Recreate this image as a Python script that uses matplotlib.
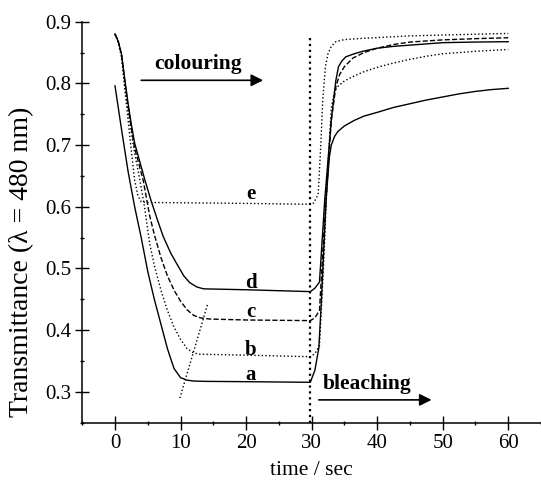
import matplotlib
matplotlib.use('Agg')
from matplotlib import pyplot as plt
from matplotlib.ticker import MultipleLocator

# time (s) and transmittance at 480 nm
t_a = [0, 1, 2, 3, 4, 5, 6, 7, 8, 9, 10, 11, 12, 14, 20, 29.8,
       30.5, 31.1, 31.5, 32.2, 32.7, 33.0, 33.5, 34, 35, 36.5, 38, 40,
       42.5, 45, 47.5, 50, 52.5, 55, 57.5, 60]
a = [0.796, 0.725, 0.657, 0.600, 0.550, 0.495, 0.450, 0.410, 0.370, 0.338, 0.323, 0.319, 0.3175, 0.317, 0.3165, 0.3155,
     0.335, 0.371, 0.449, 0.610, 0.680, 0.700, 0.714, 0.722, 0.731, 0.740, 0.747, 0.753,
     0.761, 0.767, 0.773, 0.778, 0.783, 0.787, 0.790, 0.792]

t_b = [0, 0.5, 1, 1.5, 2, 2.5, 3, 3.8, 4.5, 5.3, 6, 7, 8, 9, 10, 11, 12, 13, 20, 29.8,
       30.5, 31.2, 31.8, 32.4, 33.0, 33.5, 34, 35, 36.5, 38, 40, 42.5, 45, 47.5, 50, 55, 60]
b = [0.88, 0.868, 0.845, 0.80, 0.757, 0.72, 0.687, 0.643, 0.60, 0.54, 0.505, 0.465, 0.432, 0.405, 0.385, 0.37, 0.363, 0.361, 0.3595, 0.357,
     0.362, 0.375, 0.50, 0.65, 0.76, 0.787, 0.795, 0.804, 0.812, 0.819, 0.826, 0.833, 0.839, 0.844, 0.848, 0.852, 0.855]

t_c = [0, 0.5, 1, 1.5, 2, 2.5, 3, 4.3, 5.3, 6, 7, 8, 9, 10, 11, 12, 13, 14.5, 20, 29.8,
       30.5, 31.2, 32, 33, 33.7, 34.3, 35, 36.3, 38, 40, 42.5, 45, 50, 55, 60]
c = [0.88, 0.868, 0.846, 0.803, 0.762, 0.727, 0.695, 0.643, 0.585, 0.555, 0.518, 0.488, 0.465, 0.447, 0.433, 0.424, 0.42, 0.418, 0.4165, 0.4155,
     0.42, 0.432, 0.58, 0.74, 0.795, 0.815, 0.827, 0.841, 0.850, 0.857, 0.863, 0.867, 0.8705, 0.8725, 0.874]

t_d = [0, 0.5, 1, 1.5, 2, 2.5, 3, 4.57, 5.5, 6.5, 7.35, 8.5, 9.4, 10.5, 11.4, 12.5, 13.5, 20, 29.8,
       30.5, 31.2, 32, 33, 33.7, 34.1, 34.6, 35.2, 36.5, 37.8, 40, 42.5, 45, 50, 55, 60]
d = [0.88, 0.868, 0.847, 0.806, 0.767, 0.733, 0.703, 0.643, 0.61, 0.578, 0.552, 0.525, 0.508, 0.488, 0.477, 0.47, 0.467, 0.4655, 0.4625,
     0.468, 0.478, 0.611, 0.74, 0.805, 0.827, 0.836, 0.843, 0.848, 0.852, 0.857, 0.860, 0.862, 0.866, 0.867, 0.8676]

t_e = [0, 0.5, 1, 1.5, 2, 2.5, 3, 3.5, 4, 5, 10, 20, 29.8,
       30.3, 31, 31.4, 31.7, 32.1, 32.5, 33, 33.7, 35, 37.8, 45, 60]
e = [0.88, 0.866, 0.842, 0.79, 0.74, 0.69, 0.643, 0.618, 0.608, 0.607, 0.6065, 0.6055, 0.604,
     0.606, 0.62, 0.70, 0.773, 0.827, 0.848, 0.86, 0.8676, 0.871, 0.873, 0.877, 0.881]

# dotted guide through the minima
t_guide = [9.9, 14.1]
guide = [0.29, 0.441]

t_switch = 29.8
switch_top = 0.877

labels = ['a', 'b', 'c', 'd', 'e']
label_t = [20.7, 20.7, 20.7, 20.7, 20.7]
label_y = [0.327, 0.368, 0.429, 0.476, 0.621]

plt.rcParams['font.family'] = ['Liberation Serif', 'DejaVu Serif']

fig = plt.figure(figsize=(5.41, 4.82), dpi=100)
ax = fig.add_axes([0.152, 0.123, 0.848, 0.832])

ax.plot(t_a, a, '-', color='black', lw=1.0)
ax.plot(t_b, b, ':', color='black', lw=1.0)
ax.plot(t_c, c, '--', color='black', lw=1.0)
ax.plot(t_d, d, '-', color='black', lw=1.0)
ax.plot(t_e, e, ':', color='black', lw=1.0)
ax.plot(t_guide, guide, ':', color='black', lw=1.0)
ax.plot([t_switch, t_switch], [0.25, switch_top], ':', color='black', lw=1.6)

for lab, tx, ty in zip(labels, label_t, label_y):
    ax.text(tx, ty, lab, fontsize=15, fontweight='bold', ha='center', va='center')

ax.text(12.6, 0.832, 'colouring', fontsize=15.5, fontweight='bold', ha='center', va='center')
ax.annotate('', xy=(22.6, 0.805), xytext=(4.0, 0.805),
            arrowprops=dict(arrowstyle='-|>', color='black', lw=1.2,
                            mutation_scale=18, shrinkA=0, shrinkB=0))
ax.text(38.5, 0.312, 'bleaching', fontsize=15.5, fontweight='bold', ha='center', va='center')
ax.annotate('', xy=(48.3, 0.287), xytext=(31.1, 0.287),
            arrowprops=dict(arrowstyle='-|>', color='black', lw=1.2,
                            mutation_scale=18, shrinkA=0, shrinkB=0))

ax.set_xlim(-5, 65)
ax.set_ylim(0.25, 0.9)
ax.xaxis.set_minor_locator(MultipleLocator(5))
ax.yaxis.set_minor_locator(MultipleLocator(0.05))
ax.set_xticks([0, 10, 20, 30, 40, 50, 60])
ax.set_yticks([0.3, 0.4, 0.5, 0.6, 0.7, 0.8, 0.9])
ax.set_yticklabels(['0.3', '0.4', '0.5', '0.6', '0.7', '0.8', '0.9'])

for side in ['top', 'right']:
    ax.spines[side].set_visible(False)
for side in ['left', 'bottom']:
    ax.spines[side].set_linewidth(1.1)

ax.tick_params(which='major', direction='inout', length=10, width=1.0, labelsize=15, pad=3)
ax.tick_params(which='minor', direction='inout', length=3, width=1.0)

ax.set_xlabel('time / sec', fontsize=15.5, labelpad=6)
ax.set_ylabel('Transmittance (λ = 480 nm)', fontsize=20)
ax.yaxis.set_label_coords(-0.105, 0.40)

fig.savefig('out.png', dpi=100)
